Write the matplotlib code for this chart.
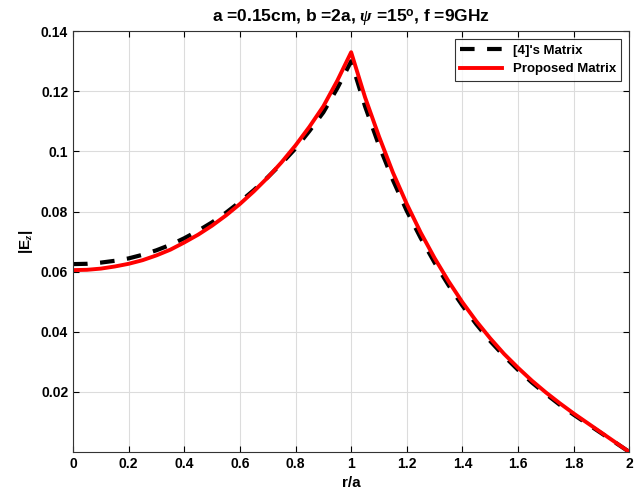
import matplotlib
matplotlib.use('Agg')
import matplotlib.pyplot as plt
import numpy as np

plt.rcParams['font.family'] = ['Liberation Sans', 'DejaVu Sans']
plt.rcParams['font.weight'] = 'bold'
plt.rcParams['mathtext.fontset'] = 'custom'
plt.rcParams['mathtext.rm'] = 'Liberation Sans:bold'
plt.rcParams['mathtext.it'] = 'Liberation Serif:italic'

# r/a sample points (step 0.05)
r = [0.00, 0.05, 0.10, 0.15, 0.20, 0.25, 0.30, 0.35, 0.40, 0.45, 0.50,
     0.55, 0.60, 0.65, 0.70, 0.75, 0.80, 0.85, 0.90, 0.95, 1.00,
     1.05, 1.10, 1.15, 1.20, 1.25, 1.30, 1.35, 1.40, 1.45, 1.50,
     1.55, 1.60, 1.65, 1.70, 1.75, 1.80, 1.85, 1.90, 1.95, 2.00]

# [4]'s matrix
ez_ref = [0.0625, 0.0626, 0.0630, 0.0636, 0.0644, 0.0656, 0.0671, 0.0689, 0.0711, 0.0736, 0.0764,
          0.0796, 0.0832, 0.0871, 0.0914, 0.0960, 0.1010, 0.1068, 0.1130, 0.1210, 0.1300,
          0.1150, 0.1020, 0.0905, 0.0802, 0.0712, 0.0630, 0.0555, 0.0487, 0.0425, 0.0369,
          0.0319, 0.0273, 0.0231, 0.0193, 0.0157, 0.0124, 0.0093, 0.0062, 0.0031, 0.0000]

# proposed matrix
ez_prop = [0.0605, 0.0606, 0.0610, 0.0617, 0.0626, 0.0638, 0.0654, 0.0673, 0.0697, 0.0723, 0.0753,
           0.0787, 0.0825, 0.0867, 0.0913, 0.0964, 0.1020, 0.1082, 0.1150, 0.1235, 0.1330,
           0.1180, 0.1050, 0.0930, 0.0825, 0.0730, 0.0645, 0.0568, 0.0498, 0.0435, 0.0378,
           0.0326, 0.0280, 0.0237, 0.0198, 0.0162, 0.0128, 0.0096, 0.0064, 0.0032, 0.0000]

fig = plt.figure(figsize=(6.35, 4.95), dpi=100)
ax = fig.add_axes([0.115, 0.087, 0.876, 0.850])

ax.plot(r, ez_ref, color='black', linestyle=(0, (3.5, 3)), linewidth=3, label="[4]'s Matrix")
ax.plot(r, ez_prop, color='red', linewidth=2.8, label='Proposed Matrix')

ax.set_xlim(0, 2)
ax.set_ylim(0, 0.14)
ax.set_xticks(np.arange(0, 2.01, 0.2))
ax.set_xticklabels(['0', '0.2', '0.4', '0.6', '0.8', '1', '1.2', '1.4', '1.6', '1.8', '2'])
ax.set_yticks([0.02, 0.04, 0.06, 0.08, 0.1, 0.12, 0.14])
ax.set_yticklabels(['0.02', '0.04', '0.06', '0.08', '0.1', '0.12', '0.14'])
ax.tick_params(direction='in', top=True, right=True, labelsize=10, length=4)
ax.grid(True, color='#dcdcdc', linewidth=0.8)
for s in ax.spines.values():
    s.set_linewidth(0.8)
    s.set_color('#333333')

ax.set_xlabel('r/a', fontsize=11, fontweight='bold')
ax.set_ylabel('|E$_z$|', fontsize=11, fontweight='bold')
ax.set_title(r'a =0.15cm, b =2a, $\it{\psi}$ =15$^{\mathrm{o}}$, f =9GHz', fontsize=12.5, fontweight='bold')

leg = ax.legend(loc='upper right', fontsize=9.5, frameon=True, fancybox=False,
                edgecolor='black', handlelength=3.2, borderaxespad=0.6)
leg.get_frame().set_linewidth(0.8)
for t in leg.get_texts():
    t.set_fontweight('bold')

fig.savefig('out.png', dpi=100)
